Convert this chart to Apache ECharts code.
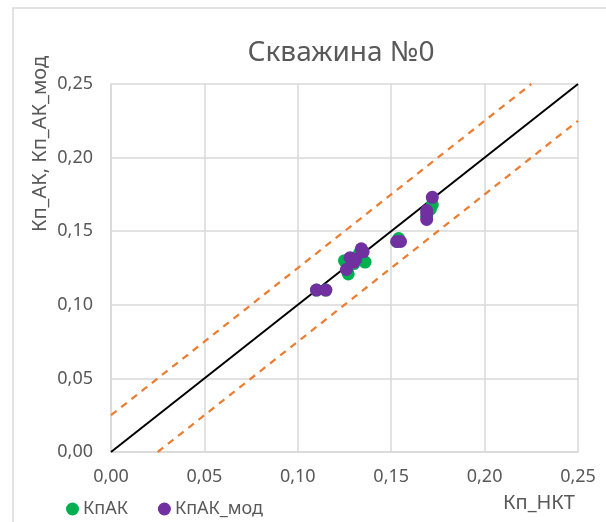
<!DOCTYPE html>
<html>
<head>
<meta charset="utf-8">
<script src="https://cdn.jsdelivr.net/npm/echarts@6/dist/echarts.min.js"></script>
<style>
  html, body { margin: 0; padding: 0; background: #fff; }
  #chart { width: 606px; height: 522px; }
</style>
</head>
<body>
<div id="chart"></div>
<script>
// КпАК (green)
var kpakX = [0.110, 0.115, 0.125, 0.127, 0.130, 0.136, 0.133, 0.153, 0.154, 0.169, 0.171, 0.172];
var kpakY = [0.110, 0.110, 0.130, 0.121, 0.128, 0.129, 0.135, 0.143, 0.145, 0.160, 0.165, 0.168];
// КпАК_мод (purple)
var modX = [0.110, 0.115, 0.126, 0.128, 0.131, 0.130, 0.134, 0.135, 0.153, 0.155, 0.169, 0.169, 0.169, 0.172];
var modY = [0.110, 0.110, 0.124, 0.132, 0.131, 0.129, 0.138, 0.136, 0.143, 0.143, 0.158, 0.164, 0.162, 0.173];
// y = x and ±0.025 band
var lineX = [0, 0.25];
var bandOffset = 0.025;

var fontName = "Noto Sans";
var grey = "#595959";

function pairs(xs, ys) {
  return xs.map(function (x, i) { return [x, ys[i]]; });
}

function fmt(v) {
  return v.toFixed(2).replace(".", ",");
}

var chart = echarts.init(document.getElementById("chart"));

var option = {
  animation: false,
  textStyle: { fontFamily: fontName },
  title: {
    text: "Скважина №0",
    left: 336,
    top: 34,
    textAlign: "center",
    textStyle: { fontSize: 28, fontWeight: "normal", color: grey, fontFamily: fontName }
  },
  legend: {
    left: 61,
    top: 495,
    icon: "circle",
    itemWidth: 13,
    itemHeight: 13,
    itemGap: 30,
    textStyle: { fontSize: 18, color: grey, padding: [0, 0, 0, -1] },
    data: ["КпАК", "КпАК_мод"]
  },
  grid: { left: 111, right: 28, top: 84, bottom: 70 },
  xAxis: {
    type: "value",
    min: 0,
    max: 0.25,
    interval: 0.05,
    axisLine: { show: true, lineStyle: { color: "#d9d9d9", width: 1.5 } },
    axisTick: { show: false },
    splitLine: { lineStyle: { color: "#d9d9d9", width: 1.5 } },
    axisLabel: { color: grey, fontSize: 18, margin: 16, formatter: fmt }
  },
  yAxis: {
    type: "value",
    min: 0,
    max: 0.25,
    interval: 0.05,
    axisLine: { show: true, lineStyle: { color: "#d9d9d9", width: 1.5 } },
    axisTick: { show: false },
    splitLine: { lineStyle: { color: "#d9d9d9", width: 1.5 } },
    axisLabel: { color: grey, fontSize: 18, margin: 18, formatter: fmt }
  },
  graphic: [
    {
      type: "rect",
      shape: { x: 13, y: 8, width: 610, height: 530 },
      style: { fill: "none", stroke: "#d9d9d9", lineWidth: 1.5 },
      silent: true
    },
    {
      type: "text",
      x: 40,
      y: 144,
      rotation: Math.PI / 2,
      style: {
        text: "Кп_АК, Кп_АК_мод",
        fill: grey,
        font: "20px " + fontName,
        textAlign: "center",
        textVerticalAlign: "middle"
      }
    },
    {
      type: "text",
      x: 539,
      y: 503,
      style: {
        text: "Кп_НКТ",
        fill: grey,
        font: "20px " + fontName,
        textAlign: "center",
        textVerticalAlign: "middle"
      }
    }
  ],
  series: [
    {
      name: "y=x",
      type: "line",
      data: lineX.map(function (x) { return [x, x]; }),
      symbol: "none",
      lineStyle: { color: "#000", width: 2 },
      z: 3
    },
    {
      name: "upper",
      type: "line",
      data: [[lineX[0], lineX[0] + bandOffset], [lineX[1] - bandOffset, lineX[1]]],
      symbol: "none",
      lineStyle: { color: "#ED7D31", width: 2.25, type: [7, 6] },
      z: 3
    },
    {
      name: "lower",
      type: "line",
      data: [[lineX[0] + bandOffset, lineX[0]], [lineX[1], lineX[1] - bandOffset]],
      symbol: "none",
      lineStyle: { color: "#ED7D31", width: 2.25, type: [7, 6] },
      z: 3
    },
    {
      name: "КпАК",
      type: "scatter",
      data: pairs(kpakX, kpakY),
      symbol: "circle",
      symbolSize: 13,
      itemStyle: { color: "#00B050", opacity: 1 },
      z: 4
    },
    {
      name: "КпАК_мод",
      type: "scatter",
      data: pairs(modX, modY),
      symbol: "circle",
      symbolSize: 13,
      itemStyle: { color: "#7030A0", opacity: 1 },
      z: 5
    }
  ]
};

chart.setOption(option);
</script>
</body>
</html>
